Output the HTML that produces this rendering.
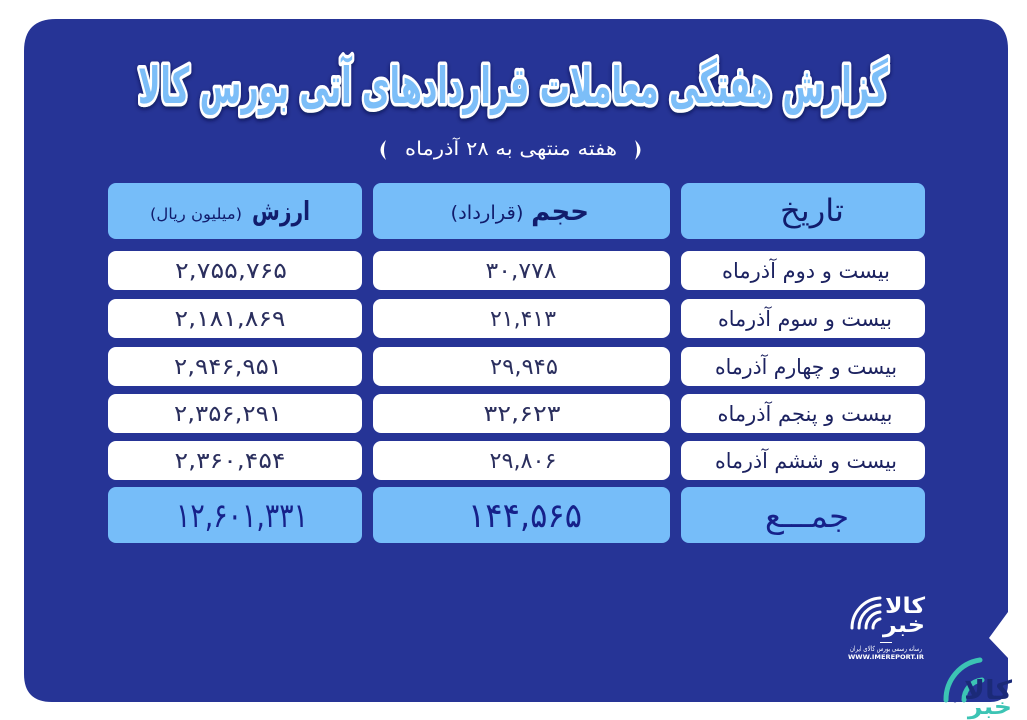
<!DOCTYPE html>
<html><head><meta charset="utf-8"><style>
html,body{margin:0;padding:0;background:#fff;}
svg{display:block}
text{font-family:"DejaVu Sans","Liberation Sans",sans-serif;}
</style></head><body>
<svg width="1027" height="720" viewBox="0 0 1027 720" xmlns="http://www.w3.org/2000/svg">
<defs>
<filter id="sh" x="-5%" y="-30%" width="110%" height="160%"><feDropShadow dx="0" dy="2" stdDeviation="2" flood-color="#050a3a" flood-opacity="0.7"/></filter>
</defs>
<rect width="1027" height="720" fill="#fff"/>
<path d="M56 19 L978 19 Q1008 19 1008 49 L1008 612 L989 638 L1008 658 L1008 684 Q1008 702 990 702 L52 702 Q24 702 24 674 L24 51 Q24 19 56 19 Z" fill="#263496"/>

<!-- Title -->
<g filter="url(#sh)">
<text x="513" y="103" text-anchor="middle" direction="rtl" font-size="50" font-weight="bold" fill="#7cbef8" stroke="#ffffff" stroke-width="7" stroke-linejoin="round" paint-order="stroke" textLength="750" lengthAdjust="spacingAndGlyphs">گزارش هفتگی معاملات قراردادهای آتی بورس کالا</text>
</g>

<!-- Subtitle -->
<text x="511" y="155" text-anchor="middle" direction="rtl" font-size="19" fill="#ffffff" textLength="212" lengthAdjust="spacingAndGlyphs">هفته منتهی به ۲۸ آذرماه</text>
<path d="M635 140 Q646 150 635 160 Q639 150 635 140 Z" fill="#fff"/>
<path d="M386 140 Q375 150 386 160 Q382 150 386 140 Z" fill="#fff"/>

<!-- Header cells -->
<g fill="#76bdf9">
<rect x="108" y="183" width="254" height="56" rx="8"/>
<rect x="373" y="183" width="297" height="56" rx="8"/>
<rect x="681" y="183" width="244" height="56" rx="8"/>
</g>
<g fill="#111c6c">
<text x="281" y="220" text-anchor="middle" direction="rtl" font-size="26" font-weight="bold" textLength="58" lengthAdjust="spacingAndGlyphs">ارزش</text>
<text x="196" y="219" text-anchor="middle" direction="rtl" font-size="15" textLength="92" lengthAdjust="spacingAndGlyphs">(میلیون ریال)</text>
<text x="560" y="220" text-anchor="middle" direction="rtl" font-size="26" font-weight="bold">حجم</text>
<text x="487" y="219" text-anchor="middle" direction="rtl" font-size="19" textLength="73" lengthAdjust="spacingAndGlyphs">(قرارداد)</text>
<text x="812" y="221" text-anchor="middle" direction="rtl" font-size="31" textLength="64" lengthAdjust="spacingAndGlyphs">تاریخ</text>
</g>

<!-- Body rows -->
<g fill="#ffffff">
<rect x="108" y="251" width="254" height="39" rx="8"/>
<rect x="373" y="251" width="297" height="39" rx="8"/>
<rect x="681" y="251" width="244" height="39" rx="8"/>
<rect x="108" y="299" width="254" height="39" rx="8"/>
<rect x="373" y="299" width="297" height="39" rx="8"/>
<rect x="681" y="299" width="244" height="39" rx="8"/>
<rect x="108" y="347" width="254" height="39" rx="8"/>
<rect x="373" y="347" width="297" height="39" rx="8"/>
<rect x="681" y="347" width="244" height="39" rx="8"/>
<rect x="108" y="394" width="254" height="39" rx="8"/>
<rect x="373" y="394" width="297" height="39" rx="8"/>
<rect x="681" y="394" width="244" height="39" rx="8"/>
<rect x="108" y="441" width="254" height="39" rx="8"/>
<rect x="373" y="441" width="297" height="39" rx="8"/>
<rect x="681" y="441" width="244" height="39" rx="8"/>
</g>
<g fill="#2b2f5e" font-size="22" text-anchor="middle">
<text x="231" y="278" textLength="112" lengthAdjust="spacingAndGlyphs">۲,۷۵۵,۷۶۵</text>
<text x="230" y="326" textLength="111" lengthAdjust="spacingAndGlyphs">۲,۱۸۱,۸۶۹</text>
<text x="228" y="374" textLength="108" lengthAdjust="spacingAndGlyphs">۲,۹۴۶,۹۵۱</text>
<text x="228" y="421" textLength="108" lengthAdjust="spacingAndGlyphs">۲,۳۵۶,۲۹۱</text>
<text x="230" y="468" textLength="111" lengthAdjust="spacingAndGlyphs">۲,۳۶۰,۴۵۴</text>
<text x="521" y="278" textLength="71" lengthAdjust="spacingAndGlyphs">۳۰,۷۷۸</text>
<text x="523" y="326" textLength="66" lengthAdjust="spacingAndGlyphs">۲۱,۴۱۳</text>
<text x="524" y="374" textLength="68" lengthAdjust="spacingAndGlyphs">۲۹,۹۴۵</text>
<text x="522" y="421" textLength="77" lengthAdjust="spacingAndGlyphs">۳۲,۶۲۳</text>
<text x="523" y="468" textLength="67" lengthAdjust="spacingAndGlyphs">۲۹,۸۰۶</text>
</g>
<g fill="#1c2260" font-size="21" text-anchor="middle" direction="rtl">
<text x="806" y="278" textLength="168" lengthAdjust="spacingAndGlyphs">بیست و دوم آذرماه</text>
<text x="805" y="326" textLength="174" lengthAdjust="spacingAndGlyphs">بیست و سوم آذرماه</text>
<text x="806" y="374" textLength="182" lengthAdjust="spacingAndGlyphs">بیست و چهارم آذرماه</text>
<text x="805" y="421" textLength="175" lengthAdjust="spacingAndGlyphs">بیست و پنجم آذرماه</text>
<text x="806" y="468" textLength="182" lengthAdjust="spacingAndGlyphs">بیست و ششم آذرماه</text>
</g>

<!-- Total row -->
<g fill="#76bdf9">
<rect x="108" y="487" width="254" height="56" rx="8"/>
<rect x="373" y="487" width="297" height="56" rx="8"/>
<rect x="681" y="487" width="244" height="56" rx="8"/>
</g>
<g fill="#16218a" text-anchor="middle">
<text x="242" y="527" font-size="34" textLength="132" lengthAdjust="spacingAndGlyphs">۱۲,۶۰۱,۳۳۱</text>
<text x="525" y="527" font-size="34" textLength="114" lengthAdjust="spacingAndGlyphs">۱۴۴,۵۶۵</text>
<text x="807" y="527" font-size="32" direction="rtl" textLength="84" lengthAdjust="spacingAndGlyphs">جمـــع</text>
</g>

<!-- White logo -->
<g fill="none" stroke="#fff" stroke-width="3" stroke-linecap="round">
<path d="M852 628 A30 30 0 0 1 880 598"/>
<path d="M859 628 A23 23 0 0 1 880 605"/>
<path d="M866 628 A16 16 0 0 1 880 612"/>
<path d="M873 628 A9 9 0 0 1 880 619"/>
</g>
<text x="905" y="613" text-anchor="middle" direction="rtl" font-size="22" font-weight="bold" fill="#fff" textLength="40" lengthAdjust="spacingAndGlyphs">کالا</text>
<text x="904" y="632" text-anchor="middle" direction="rtl" font-size="22" font-weight="bold" fill="#fff" textLength="42" lengthAdjust="spacingAndGlyphs">خبر</text>
<rect x="880" y="642" width="12" height="1" fill="#fff"/>
<text x="886" y="651" text-anchor="middle" direction="rtl" font-size="7" fill="#fff" textLength="72" lengthAdjust="spacingAndGlyphs">رسانه رسمی بورس کالای ایران</text>
<text x="886" y="659" text-anchor="middle" font-family="Liberation Sans" font-size="6.5" font-weight="bold" fill="#fff" textLength="76" lengthAdjust="spacingAndGlyphs">WWW.IMEREPORT.IR</text>

<!-- Bottom right logo -->
<g fill="none" stroke-width="5" stroke-linecap="round">
<path d="M946 700 A40 40 0 0 1 980 660" stroke="#3cc4b4"/>
<path d="M955 700 A30 30 0 0 1 982 670" stroke="#263496"/>
<path d="M964 700 A20 20 0 0 1 982 680" stroke="#3cc4b4"/>
</g>
<text x="988" y="699" text-anchor="middle" direction="rtl" font-size="26" font-weight="bold" fill="#1b2a78" textLength="48" lengthAdjust="spacingAndGlyphs">کالا</text>
<text x="990" y="714" text-anchor="middle" direction="rtl" font-size="22" font-weight="bold" fill="#3cc4b4" textLength="44" lengthAdjust="spacingAndGlyphs">خبر</text>
</svg>
</body></html>
